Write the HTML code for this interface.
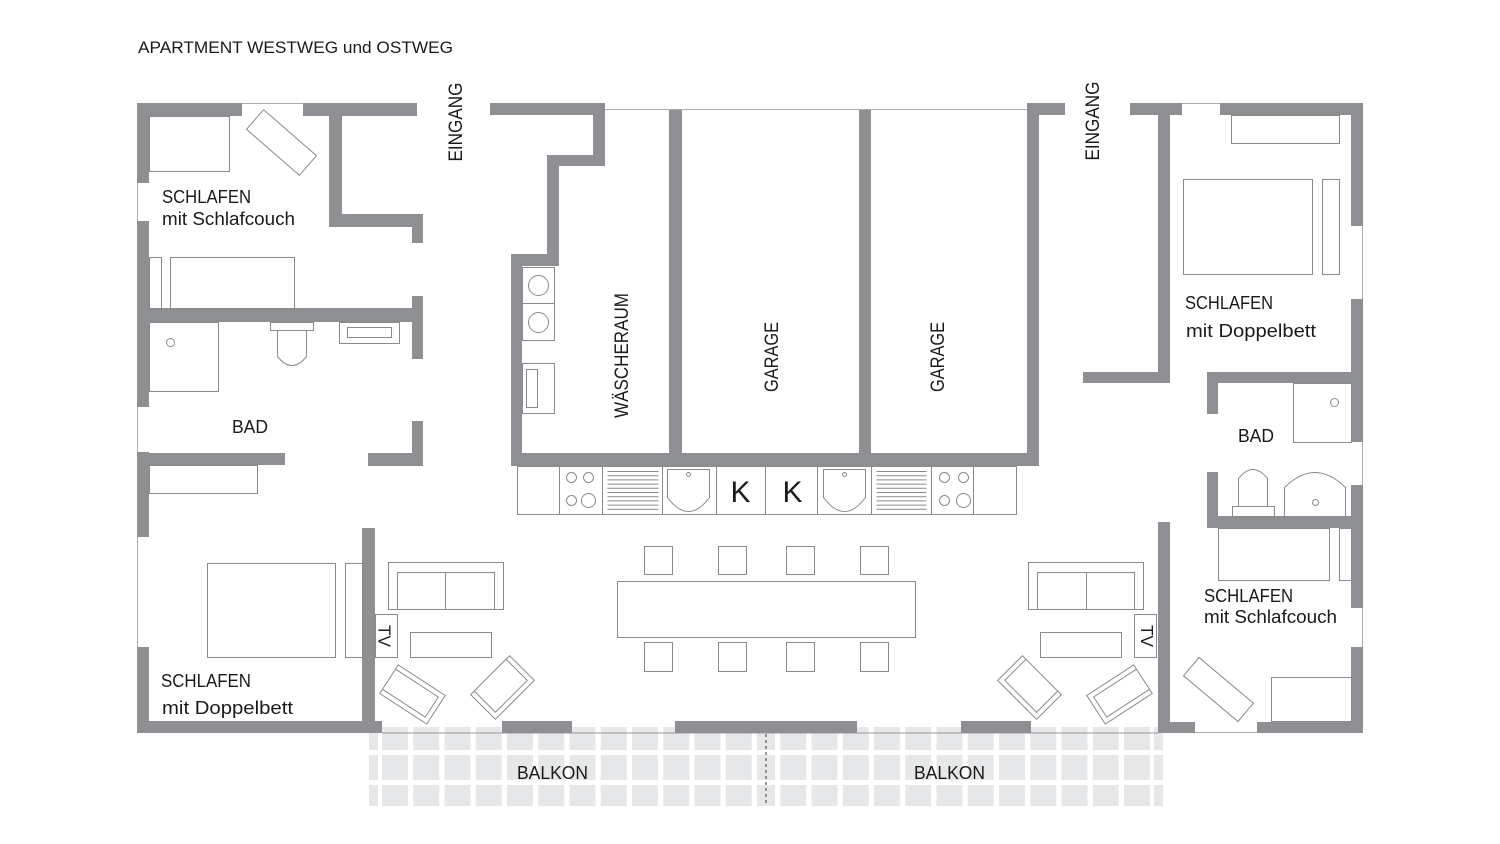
<!DOCTYPE html>
<html>
<head>
<meta charset="utf-8">
<style>
html,body{margin:0;padding:0;background:#fff;}
svg{display:block;}
text{font-family:"Liberation Sans",Arial,sans-serif;fill:#1a1a1a;}
</style>
</head>
<body>
<svg width="1500" height="844" viewBox="0 0 1500 844" xmlns="http://www.w3.org/2000/svg">
<defs>
<pattern id="tL" patternUnits="userSpaceOnUse" x="382" y="0" width="31.25" height="844"><rect x="0" y="0" width="26" height="844" fill="#e6e7e8"/></pattern>
<pattern id="tR" patternUnits="userSpaceOnUse" x="780.25" y="0" width="31.25" height="844"><rect x="0" y="0" width="26" height="844" fill="#e6e7e8"/></pattern>
</defs>
<rect width="1500" height="844" fill="#fff"/>

<g fill="#e6e7e8">
<rect x="369" y="727" width="9" height="23"/><rect x="382" y="727" width="370" height="23" fill="url(#tL)"/><rect x="757" y="727" width="18" height="23"/><rect x="780.25" y="727" width="370" height="23" fill="url(#tR)"/><rect x="1154" y="727" width="9" height="23"/>
<rect x="369" y="755" width="9" height="25"/><rect x="382" y="755" width="370" height="25" fill="url(#tL)"/><rect x="757" y="755" width="18" height="25"/><rect x="780.25" y="755" width="370" height="25" fill="url(#tR)"/><rect x="1154" y="755" width="9" height="25"/>
<rect x="369" y="785" width="9" height="21"/><rect x="382" y="785" width="370" height="21" fill="url(#tL)"/><rect x="757" y="785" width="18" height="21"/><rect x="780.25" y="785" width="370" height="21" fill="url(#tR)"/><rect x="1154" y="785" width="9" height="21"/>
</g>
<line x1="382" y1="733" x2="1158" y2="733" stroke="#9a9a9a" stroke-width="1"/>
<line x1="766" y1="734" x2="766" y2="806" stroke="#555" stroke-width="1.2" stroke-dasharray="3,3"/>

<g stroke="#ababab" stroke-width="1" fill="none">
<line x1="242" y1="103.5" x2="303" y2="103.5"/>
<line x1="137.5" y1="183" x2="137.5" y2="221"/>
<line x1="137.5" y1="407" x2="137.5" y2="452"/>
<line x1="137.5" y1="537" x2="137.5" y2="647"/>
<line x1="605" y1="109.5" x2="1027" y2="109.5"/>
<line x1="1182" y1="103.5" x2="1220" y2="103.5"/>
<line x1="1362.5" y1="226" x2="1362.5" y2="299"/>
<line x1="1362.5" y1="442" x2="1362.5" y2="485"/>
<line x1="1362.5" y1="608" x2="1362.5" y2="647"/>
<line x1="1195" y1="732.5" x2="1257" y2="732.5"/>
</g>

<g fill="#8e8f92">
<rect x="137" y="103" width="105" height="13"/>
<rect x="303" y="103" width="114" height="13"/>
<rect x="137" y="103" width="12" height="80"/>
<rect x="137" y="221" width="12" height="186"/>
<rect x="137" y="452" width="12" height="85"/>
<rect x="137" y="647" width="12" height="86"/>
<rect x="329" y="116" width="13" height="111"/>
<rect x="329" y="214" width="94" height="13"/>
<rect x="412" y="214" width="11" height="29"/>
<rect x="137" y="308" width="286" height="14"/>
<rect x="412" y="296" width="11" height="63"/>
<rect x="137" y="453" width="148" height="12"/>
<rect x="368" y="453" width="55" height="13"/>
<rect x="412" y="421" width="11" height="45"/>
<rect x="362" y="528" width="13" height="205"/>
<rect x="137" y="721" width="245" height="12"/>
<rect x="502" y="721" width="70" height="12"/>
<rect x="675" y="721" width="182" height="12"/>
<rect x="961" y="721" width="70" height="12"/>
<rect x="490" y="103" width="115" height="12"/>
<rect x="593" y="103" width="12" height="63"/>
<rect x="547" y="155" width="58" height="11"/>
<rect x="547" y="155" width="12" height="111"/>
<rect x="511" y="254" width="48" height="12"/>
<rect x="511" y="254" width="11" height="211"/>
<rect x="511" y="453" width="528" height="13"/>
<rect x="669" y="110" width="13" height="355"/>
<rect x="859" y="110" width="12" height="355"/>
<rect x="1027" y="103" width="12" height="362"/>
<rect x="1027" y="103" width="38" height="12"/>
<rect x="1130" y="103" width="52" height="12"/>
<rect x="1220" y="103" width="143" height="12"/>
<rect x="1158" y="103" width="12" height="280"/>
<rect x="1083" y="372" width="87" height="11"/>
<rect x="1351" y="103" width="12" height="123"/>
<rect x="1351" y="299" width="12" height="143"/>
<rect x="1351" y="485" width="12" height="123"/>
<rect x="1351" y="647" width="12" height="86"/>
<rect x="1207" y="372" width="156" height="11"/>
<rect x="1207" y="372" width="11" height="42"/>
<rect x="1207" y="472" width="11" height="56"/>
<rect x="1207" y="516" width="156" height="12"/>
<rect x="1158" y="522" width="12" height="211"/>
<rect x="1158" y="722" width="37" height="11"/>
<rect x="1257" y="722" width="106" height="11"/>
</g>

<g fill="none" stroke="#8a8a8a" stroke-width="1" transform="translate(0.5,0.5)">
<rect x="149" y="116" width="80" height="55"/>
<rect x="-35" y="-13" width="70" height="26" transform="translate(281,142) rotate(41)"/>
<rect x="170" y="257" width="124" height="51"/>
<rect x="149" y="257" width="12" height="51"/>
<rect x="149" y="322" width="69" height="69"/>
<circle cx="170" cy="342" r="4"/>
<rect x="270" y="322" width="43" height="8"/>
<path d="M277,330 V356 Q291.5,374 306,356 V330"/>
<rect x="339" y="322" width="60" height="21"/>
<rect x="347" y="327" width="44" height="10"/>
<rect x="149" y="465" width="108" height="28"/>
<rect x="207" y="563" width="128" height="94"/>
<rect x="345" y="563" width="17" height="94"/>

<g>
<rect x="375" y="614" width="22" height="43"/>
<rect x="388" y="562" width="115" height="47"/>
<path d="M397,609 V572 H494 V609"/>
<line x1="445" y1="572" x2="445" y2="609"/>
<rect x="410" y="632" width="81" height="25"/>
<g transform="translate(412,694) rotate(33)"><rect x="-28" y="-17" width="56" height="34"/><path d="M-28,-12 H23 V12 H-28"/></g>
<g transform="translate(502,687) rotate(-45)"><rect x="-27.5" y="-17.5" width="55" height="35"/><path d="M-22.5,-17.5 V12.5 H22.5 V-17.5"/></g>
</g>
<g transform="translate(1531,0) scale(-1,1)">
<rect x="375" y="614" width="22" height="43"/>
<rect x="388" y="562" width="115" height="47"/>
<path d="M397,609 V572 H494 V609"/>
<line x1="445" y1="572" x2="445" y2="609"/>
<rect x="410" y="632" width="81" height="25"/>
<g transform="translate(412,694) rotate(33)"><rect x="-28" y="-17" width="56" height="34"/><path d="M-28,-12 H23 V12 H-28"/></g>
<g transform="translate(502,687) rotate(-45)"><rect x="-27.5" y="-17.5" width="55" height="35"/><path d="M-22.5,-17.5 V12.5 H22.5 V-17.5"/></g>
</g>

<rect x="522" y="267" width="32" height="36"/>
<rect x="522" y="303" width="32" height="37"/>
<circle cx="538" cy="285" r="10"/>
<circle cx="538" cy="322" r="10"/>
<rect x="522" y="363" width="32" height="50"/>
<rect x="526" y="369" width="11" height="38"/>

<rect x="517" y="466" width="499" height="48"/>
<path d="M559,466 V514 M602,466 V514 M662,466 V514 M716,466 V514 M765,466 V514 M817,466 V514 M871,466 V514 M931,466 V514 M973,466 V514"/>
<circle cx="571" cy="477" r="5"/><circle cx="588" cy="477" r="5"/><circle cx="571" cy="500" r="5"/><circle cx="588" cy="500" r="7"/>
<circle cx="944" cy="477" r="5"/><circle cx="963" cy="477" r="5"/><circle cx="944" cy="500" r="5"/><circle cx="963" cy="500" r="7"/>
<path d="M607,471 H658 M607,475.2 H658 M607,479.4 H658 M607,483.6 H658 M607,487.8 H658 M607,492 H658 M607,496.2 H658 M607,500.4 H658 M607,504.6 H658 M607,508.8 H658"/>
<path d="M876,471 H926 M876,475.2 H926 M876,479.4 H926 M876,483.6 H926 M876,487.8 H926 M876,492 H926 M876,496.2 H926 M876,500.4 H926 M876,504.6 H926 M876,508.8 H926"/>
<path d="M667,469 H709 V497 Q688,525 667,497 Z"/>
<circle cx="688" cy="474" r="2"/>
<path d="M823,469 H865 V497 Q844,525 823,497 Z"/>
<circle cx="844" cy="474" r="2"/>

<rect x="617" y="581" width="298" height="56"/>
<rect x="644" y="546" width="28" height="28"/>
<rect x="718" y="546" width="28" height="28"/>
<rect x="786" y="546" width="28" height="28"/>
<rect x="860" y="546" width="28" height="28"/>
<rect x="644" y="642" width="28" height="29"/>
<rect x="718" y="642" width="28" height="29"/>
<rect x="786" y="642" width="28" height="29"/>
<rect x="860" y="642" width="28" height="29"/>

<rect x="1231" y="115" width="108" height="28"/>
<rect x="1183" y="179" width="129" height="95"/>
<rect x="1322" y="179" width="17" height="95"/>
<rect x="1293" y="383" width="58" height="59"/>
<circle cx="1334" cy="402" r="4"/>
<rect x="1232" y="506" width="42" height="10"/>
<path d="M1238,506 V478 Q1252.5,460 1267,478 V506"/>
<path d="M1284,516 V487 Q1314.5,457 1345,487 V516"/>
<circle cx="1315" cy="502" r="3"/>
<rect x="1218" y="528" width="111" height="52"/>
<rect x="1339" y="528" width="12" height="52"/>
<rect x="-35.5" y="-12" width="71" height="24" transform="translate(1218,689) rotate(40)"/>
<rect x="1271" y="677" width="80" height="44"/>
</g>

<text x="138" y="53" font-size="16.5" textLength="315" lengthAdjust="spacingAndGlyphs">APARTMENT WESTWEG und OSTWEG</text>

<g font-size="18">
<text x="162" y="203" textLength="89" lengthAdjust="spacingAndGlyphs">SCHLAFEN</text>
<text x="162" y="225" textLength="133" lengthAdjust="spacingAndGlyphs">mit Schlafcouch</text>
<text x="232" y="433" textLength="36" lengthAdjust="spacingAndGlyphs">BAD</text>
<text x="161" y="687" textLength="90" lengthAdjust="spacingAndGlyphs">SCHLAFEN</text>
<text x="162" y="714" textLength="131" lengthAdjust="spacingAndGlyphs">mit Doppelbett</text>
<text x="1185" y="309" textLength="88" lengthAdjust="spacingAndGlyphs">SCHLAFEN</text>
<text x="1186" y="337" textLength="130" lengthAdjust="spacingAndGlyphs">mit Doppelbett</text>
<text x="1238" y="442" textLength="36" lengthAdjust="spacingAndGlyphs">BAD</text>
<text x="1204" y="602" textLength="89" lengthAdjust="spacingAndGlyphs">SCHLAFEN</text>
<text x="1204" y="623" textLength="133" lengthAdjust="spacingAndGlyphs">mit Schlafcouch</text>
<text x="517" y="779" textLength="71" lengthAdjust="spacingAndGlyphs">BALKON</text>
<text x="914" y="779" textLength="71" lengthAdjust="spacingAndGlyphs">BALKON</text>
</g>

<g font-size="19.5" text-anchor="middle">
<text transform="translate(455,122) rotate(-90)" x="0" y="7" textLength="79" lengthAdjust="spacingAndGlyphs">EINGANG</text>
<text transform="translate(1092,121) rotate(-90)" x="0" y="7" textLength="79" lengthAdjust="spacingAndGlyphs">EINGANG</text>
<text transform="translate(621,355.5) rotate(-90)" x="0" y="7" textLength="125" lengthAdjust="spacingAndGlyphs">WÄSCHERAUM</text>
<text transform="translate(771,357) rotate(-90)" x="0" y="7" textLength="70" lengthAdjust="spacingAndGlyphs">GARAGE</text>
<text transform="translate(937,357) rotate(-90)" x="0" y="7" textLength="70" lengthAdjust="spacingAndGlyphs">GARAGE</text>
</g>
<g font-size="17.5" text-anchor="middle">
<text transform="translate(385,636) rotate(90)" x="0" y="6.3" textLength="22" lengthAdjust="spacingAndGlyphs">TV</text>
<text transform="translate(1147.5,636) rotate(90)" x="0" y="6.3" textLength="22" lengthAdjust="spacingAndGlyphs">TV</text>
</g>
<g font-size="30" text-anchor="middle">
<text x="740.5" y="502">K</text>
<text x="792.5" y="502">K</text>
</g>
</svg>
</body>
</html>
